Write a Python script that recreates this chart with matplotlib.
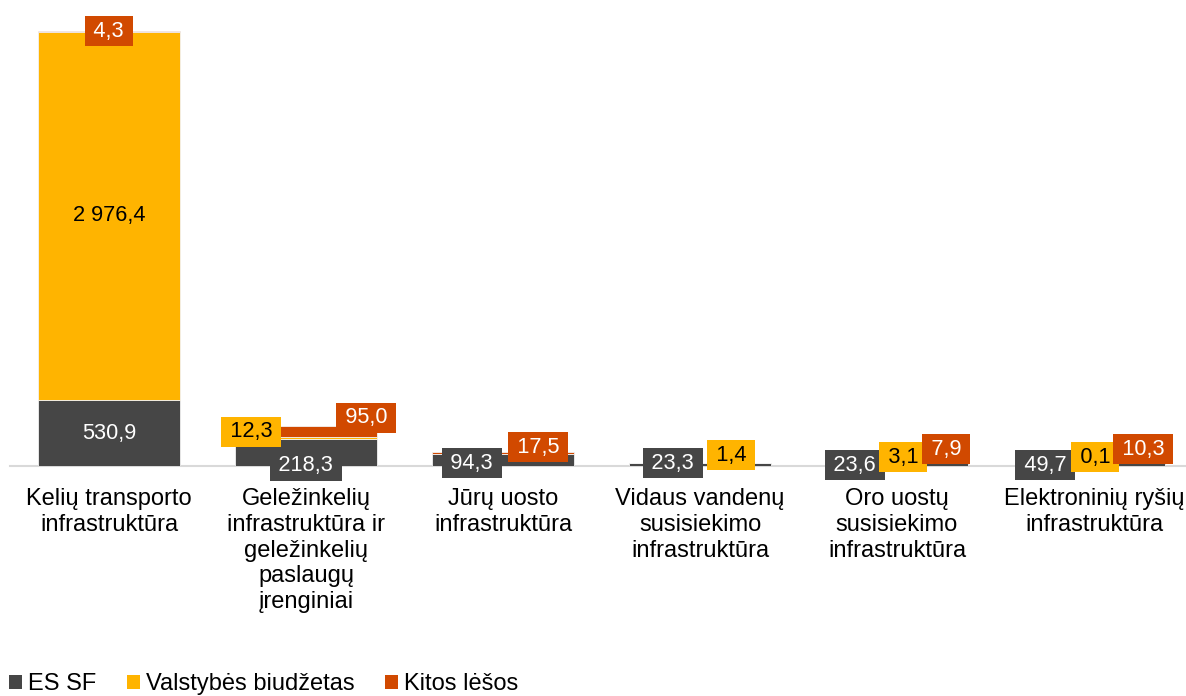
import matplotlib
matplotlib.use("Agg")
import matplotlib.pyplot as plt
import numpy as np
from matplotlib.patches import Patch

plt.rcParams['font.family'] = ['Liberation Sans', 'DejaVu Sans']

categories = [
    "Kelių transporto\ninfrastruktūra",
    "Geležinkelių\ninfrastruktūra ir\ngeležinkelių\npaslaugų\nįrenginiai",
    "Jūrų uosto\ninfrastruktūra",
    "Vidaus vandenų\nsusisiekimo\ninfrastruktūra",
    "Oro uostų\nsusisiekimo\ninfrastruktūra",
    "Elektroninių ryšių\ninfrastruktūra",
]
series_names = ["ES SF", "Valstybės biudžetas", "Kitos lėšos"]
es_sf = [530.9, 218.3, 94.3, 23.3, 23.6, 49.7]
valstybes = [2976.4, 12.3, 0.0, 1.4, 3.1, 0.1]
kitos = [4.3, 95.0, 17.5, 0.0, 7.9, 10.3]

colors = ["#464646", "#FFB400", "#D14900"]
text_colors = ["white", "black", "white"]

def fmt(v):
    return f"{v:,.1f}".replace(",", " ").replace(".", ",")

W, H = 1186, 696
fig = plt.figure(figsize=(W / 100, H / 100), dpi=100)
ax_left = 10 / W
ax_bottom = 1 - 466 / H
ax = fig.add_axes([ax_left, ax_bottom, 1 - ax_left, 466 / H])

x = np.arange(len(categories))
width = 0.716
data = [es_sf, valstybes, kitos]
bottoms = np.zeros(len(categories))
for vals, c in zip(data, colors):
    ax.bar(x, vals, width, bottom=bottoms, color=c, edgecolor="#f2f2f2", linewidth=0.6, zorder=2)
    bottoms += np.array(vals)

ax.set_xlim(-99 / 197, (W - 10 - 99) / 197)
ax.set_ylim(0, 3762)
for s in ["top", "right", "left"]:
    ax.spines[s].set_visible(False)
ax.spines["bottom"].set_color("#D9D9D9")
ax.spines["bottom"].set_linewidth(1.5)
ax.spines["bottom"].set_zorder(1)
ax.set_yticks([])
ax.set_xticks(x)
ax.set_xticklabels(categories, fontsize=17, linespacing=1.22, va="top")
ax.tick_params(axis="x", length=0, pad=16)

FS = 15.7
inside = {(0, 0), (1, 0)}
offsets = {
    (2, 0): "top",
    (0, 1): (0, 0), (1, 1): (-55, 34), (2, 1): (60, 48),
    (0, 2): (-31, 3), (2, 2): (35, 19),
    (0, 3): (-27, 3), (1, 3): (31, 11),
    (0, 4): (-42, 1), (1, 4): (6, 9), (2, 4): (49, 17),
    (0, 5): (-49, 1), (1, 5): (1, 9), (2, 5): (49, 17),
}
TS = "\u2009"
cum = np.zeros(len(categories))
for si, vals in enumerate(data):
    for ci, v in enumerate(vals):
        if v == 0:
            continue
        key = (si, ci)
        if key in inside:
            ax.text(ci, cum[ci] + v / 2, fmt(v), ha="center", va="center",
                    fontsize=FS, color=text_colors[si], zorder=5)
        elif key in offsets:
            o = offsets[key]
            bbox = dict(boxstyle="square,pad=0.2", fc=colors[si], ec="none")
            label = TS + fmt(v) + TS
            if o == "top":
                ax.text(ci, cum[ci] + v, label, ha="center", va="center",
                        fontsize=FS, color=text_colors[si], bbox=bbox, zorder=5)
            else:
                ax.annotate(label, xy=(ci, 0), xytext=o, textcoords="offset pixels",
                            ha="center", va="center", fontsize=FS,
                            color=text_colors[si], bbox=bbox, zorder=5,
                            annotation_clip=False)
    cum += np.array(vals)

handles = [Patch(facecolor=c, edgecolor="none") for c in colors]
fig.legend(handles, series_names, loc="center left", bbox_to_anchor=(0.0, 1 - 684 / H),
           ncol=3, frameon=False, fontsize=17, handlelength=0.55, handleheight=0.55,
           handletextpad=0.25, columnspacing=1.3, borderaxespad=0, borderpad=0.4)

fig.savefig("out.png", dpi=100)
